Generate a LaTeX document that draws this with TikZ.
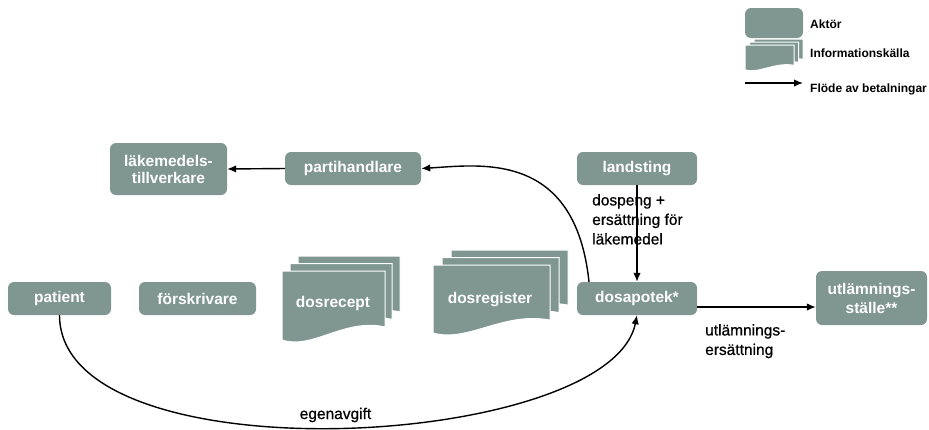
\documentclass[tikz,border=0pt]{standalone}
\usepackage{fontspec}
\setmainfont{Liberation Sans}
\newfontfamily\lblfont[FakeBold=0.7]{Liberation Sans}
\usetikzlibrary{arrows.meta,calc}
\definecolor{boxgreen}{RGB}{128,150,144}
\tikzset{
  actor/.style={fill=boxgreen, rounded corners=6pt, text=white, align=center, inner sep=0pt,
    font=\fontsize{15.5}{17}\selectfont\bfseries},
  doctext/.style={text=white, inner sep=0pt, font=\fontsize{15.5}{17}\selectfont\bfseries},
  lbl/.style={inner sep=0pt, align=left, font=\lblfont\fontsize{15.5}{19.5}\selectfont},
  legtext/.style={inner sep=0pt, anchor=base west, font=\fontsize{12}{14}\selectfont\bfseries},
  flow/.style={line width=1.4pt, -{Latex[length=9pt,width=7.5pt]}},
  pagestyle/.style={fill=boxgreen, draw=white, line width=1pt}
}
\newcommand\docpage[4]{%
  \path[pagestyle] (#1,#2) -- (#1+#3,#2) -- (#1+#3,#2+0.81*#4)
    .. controls (#1+0.6*#3,#2+0.68*#4) and (#1+0.3*#3,#2+1.145*#4) .. (#1,#2+#4) -- cycle;}
\begin{document}
\begin{tikzpicture}[x=1pt,y=-1pt]
\useasboundingbox (0,0) rectangle (929,429);
% legend
\node[actor, minimum width=58pt, minimum height=30pt] (legactor) at (774,23) {};
\node[legtext] (legactortxt) at (810,28) {Aktör};
\docpage{754}{39}{49}{25}
\docpage{749.5}{42}{49}{25}
\docpage{745}{45}{49}{25}
\node[legtext] (leginfotxt) at (810,57) {Informationskälla};
\coordinate (la1) at (745,83);
\coordinate (la2) at (803,83);
\draw[flow] (la1) -- (la2);
\node[legtext] (legflowtxt) at (810,92) {Flöde av betalningar};
% actors
\node[actor, minimum width=117pt, minimum height=52pt] (lak) at (168.5,169) {läkemedels-\\tillverkare};
\node[actor, minimum width=136pt, minimum height=33pt] (parti) at (353,168.5) {partihandlare};
\node[actor, minimum width=120pt, minimum height=33pt] (landsting) at (637,168.5) {landsting};
\node[actor, minimum width=120pt, minimum height=33pt] (dosapotek) at (637,298.5) {dosapotek*};
\node[actor, minimum width=103pt, minimum height=33pt] (patient) at (59.5,298.5) {patient};
\node[actor, minimum width=117pt, minimum height=33pt] (forskrivare) at (197.5,298.5) {förskrivare};
\node[actor, minimum width=111pt, minimum height=54pt, font=\fontsize{15.5}{19}\selectfont\bfseries] (utl) at (871.5,298) {utlämnings-\\ställe**};
% information sources
\docpage{298}{256}{102}{69}
\docpage{290}{263.5}{102}{69}
\docpage{282}{271}{103}{69}
\node[doctext] (dosrecept) at (333,303) {dosrecept};
\docpage{451}{250}{117}{68}
\docpage{442}{257.5}{117}{68}
\docpage{433}{265}{117}{68}
\node[doctext] (dosregister) at (490,300) {dosregister};
% flows
\draw[flow] (parti.west) -- (lak.east);
\draw[flow] (landsting) -- (dosapotek);
\draw[flow] ([xshift=-48pt]dosapotek.north) .. controls (575,150) and (480,165) .. (parti.east);
\draw[flow] (dosapotek.east) ++(0,8.5) coordinate (dz) -- (dz -| utl.west);
\draw[flow] (patient.south) .. controls (60,480) and (610,450) .. (dosapotek.south);
% labels
\node[lbl, anchor=north west] (l1) at (592,194) {dospeng +\\ersättning för\\läkemedel};
\node[lbl, anchor=north west] (l2) at (705,324) {utlämnings-\\ersättning};
\node[lbl, anchor=base] (l3) at (335.5,419) {egenavgift};
\end{tikzpicture}
\end{document}
